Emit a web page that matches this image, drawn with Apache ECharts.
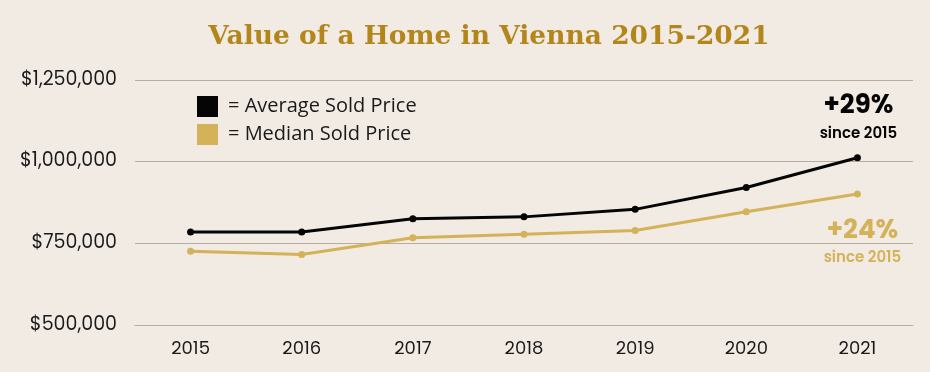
<!DOCTYPE html>
<html>
<head>
<meta charset="utf-8">
<script src="https://cdn.jsdelivr.net/npm/echarts@6/dist/echarts.min.js"></script>
<style>
html,body{margin:0;padding:0;background:#f1ebe3;}
#chart{width:930px;height:372px;}
</style>
</head>
<body>
<div id="chart"></div>
<script>
const years = ['2015','2016','2017','2018','2019','2020','2021'];
const averageSold = [785000, 785000, 825000, 831000, 854000, 921000, 1012000];
const medianSold = [726000, 716000, 767000, 778000, 789000, 847000, 901000];
const yTicks = [500000, 750000, 1000000, 1250000];
const avgChange = '+29%';
const medChange = '+24%';

const BLACK = '#050505';
const GOLD = '#d4b259';

function lastLabel(arr, text, color, pos, dist, off) {
  return arr.map((v, i) => {
    if (i !== arr.length - 1) return v;
    return {
      value: v,
      label: {
        show: true,
        position: pos,
        distance: dist,
        offset: off,
        formatter: '{a|' + text + '}\n{b|since 2015}',
        rich: {
          a: {fontFamily: 'Poppins, Inter, "Noto Sans", sans-serif', fontSize: 26, fontWeight: 'bold', color: color, lineHeight: 31, align: 'center'},
          b: {fontFamily: 'Poppins, Inter, "Noto Sans", sans-serif', fontSize: 15, fontWeight: 600, color: color, lineHeight: 24, align: 'center'}
        }
      }
    };
  });
}

const chart = echarts.init(document.getElementById('chart'), null, {renderer: 'canvas'});
chart.setOption({
  backgroundColor: '#f1ebe3',
  animation: false,
  title: {
    text: 'Value of a Home in Vienna 2015-2021',
    left: 484,
    textAlign: 'center',
    top: 19,
    textStyle: {fontFamily: '"DejaVu Serif", serif', fontSize: 26.5, fontWeight: 'bold', color: '#b3861c'}
  },
  legend: {
    orient: 'vertical',
    left: 192,
    top: 91,
    icon: 'rect',
    itemWidth: 21,
    itemHeight: 21,
    itemGap: 7,
    formatter: '= {name}',
    textStyle: {fontFamily: '"Open Sans", sans-serif', fontSize: 20, color: '#1a1a1a', padding: [0, 0, 0, 5]},
    data: ['Average Sold Price', 'Median Sold Price']
  },
  grid: {left: 135, right: 17, top: 80, bottom: 47, containLabel: false},
  xAxis: {
    type: 'category',
    data: years,
    boundaryGap: true,
    axisLine: {show: true, lineStyle: {color: '#b5ada2', width: 1}},
    axisTick: {show: false},
    axisLabel: {margin: 15, fontFamily: 'Poppins, "Noto Sans", sans-serif', fontSize: 18, color: '#1a1a1a'}
  },
  yAxis: {
    type: 'value',
    min: yTicks[0],
    max: yTicks[yTicks.length - 1],
    interval: yTicks[1] - yTicks[0],
    axisLine: {show: false},
    axisTick: {show: false},
    splitLine: {lineStyle: {color: '#b5ada2', width: 1}},
    axisLabel: {
      margin: 18,
      fontFamily: 'Poppins, "Noto Sans", sans-serif',
      fontSize: 19,
      color: '#1a1a1a',
      formatter: v => '$' + v.toLocaleString('en-US')
    }
  },
  series: [
    {
      name: 'Average Sold Price',
      type: 'line',
      data: lastLabel(averageSold, avgChange, BLACK, 'top', 8, [1, 0]),
      symbol: 'circle',
      symbolSize: 7,
      lineStyle: {color: BLACK, width: 3},
      itemStyle: {color: BLACK},
      z: 3
    },
    {
      name: 'Median Sold Price',
      type: 'line',
      data: lastLabel(medianSold, medChange, GOLD, 'bottom', 18, [5, 0]),
      symbol: 'circle',
      symbolSize: 7,
      lineStyle: {color: GOLD, width: 3},
      itemStyle: {color: GOLD},
      z: 2
    }
  ]
});
</script>
</body>
</html>
